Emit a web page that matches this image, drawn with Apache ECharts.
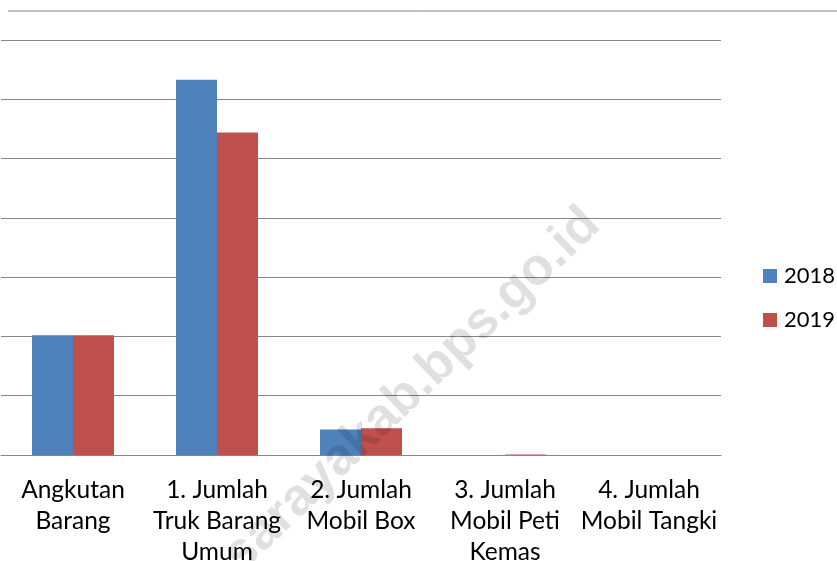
<!DOCTYPE html>
<html lang="en" style="height: 100%">
<head>
  <meta charset="utf-8">
</head>
<body style="height: 100%; margin: 0">
  <div id="container" style="width: 837px; height: 561px"></div>

  <script type="text/javascript" src="https://cdn.jsdelivr.net/npm/echarts@6/dist/echarts.min.js"></script>

  <script type="text/javascript">
    // kategori dan nilai (satuan = satu garis bantu)
    var categories = [
      'Angkutan\nBarang',
      '1. Jumlah\nTruk Barang\nUmum',
      '2. Jumlah\nMobil Box',
      '3. Jumlah\nMobil Peti\nKemas',
      '4. Jumlah\nMobil Tangki'
    ];
    var years = ['2018', '2019'];
    var data2018 = [2.02, 6.33, 0.43, 0, 0];
    var data2019 = [2.02, 5.44, 0.45, 0.01, 0];

    var dom = document.getElementById('container');
    var myChart = echarts.init(dom, null, { renderer: 'canvas' });

    var gridColor = '#868686';
    var option = {
      animation: false,
      textStyle: { fontFamily: 'Lato', color: '#000' },
      grid: { left: 1, right: 116, top: 40, bottom: 106, outerBoundsMode: 'none', containLabel: false },
      legend: {
        data: years,
        orient: 'vertical',
        left: 763,
        top: 265,
        padding: 0,
        itemWidth: 14,
        itemHeight: 14,
        itemGap: 22,
        icon: 'rect',
        textStyle: { fontSize: 22, color: '#000', fontFamily: 'Lato', padding: [0, 0, 0, 2] }
      },
      xAxis: {
        type: 'category',
        data: categories,
        axisLine: { lineStyle: { color: gridColor, width: 1 } },
        axisTick: { length: 7, lineStyle: { color: gridColor } },
        axisLabel: { fontSize: 24.5, lineHeight: 31, color: '#000', margin: 20, interval: 0 }
      },
      yAxis: {
        type: 'value',
        min: 0,
        max: 7,
        interval: 1,
        axisLabel: { show: false },
        axisLine: { show: false },
        axisTick: { show: false },
        splitLine: { lineStyle: { color: gridColor, width: 1 } }
      },
      series: [
        {
          name: years[0],
          type: 'bar',
          data: data2018,
          barWidth: 41,
          barGap: '0%',
          itemStyle: { color: '#4F81BD' }
        },
        {
          name: years[1],
          type: 'bar',
          data: data2019,
          barWidth: 41,
          itemStyle: { color: '#C0504D' }
        }
      ],
      graphic: [
        {
          type: 'line',
          shape: { x1: 8, y1: 11, x2: 837, y2: 11 },
          style: { stroke: gridColor, lineWidth: 1 }
        },
        {
          type: 'text',
          x: 412,
          y: 390,
          rotation: 0.765,
          style: {
            text: 'sarayakab.bps.go.id',
            font: 'bold 52px "Liberation Sans"',
            fill: 'rgba(0,0,0,0.12)',
            align: 'center',
            verticalAlign: 'middle'
          },
          z: 100
        }
      ]
    };

    myChart.setOption(option);
    window.addEventListener('resize', myChart.resize);
  </script>
</body>
</html>
